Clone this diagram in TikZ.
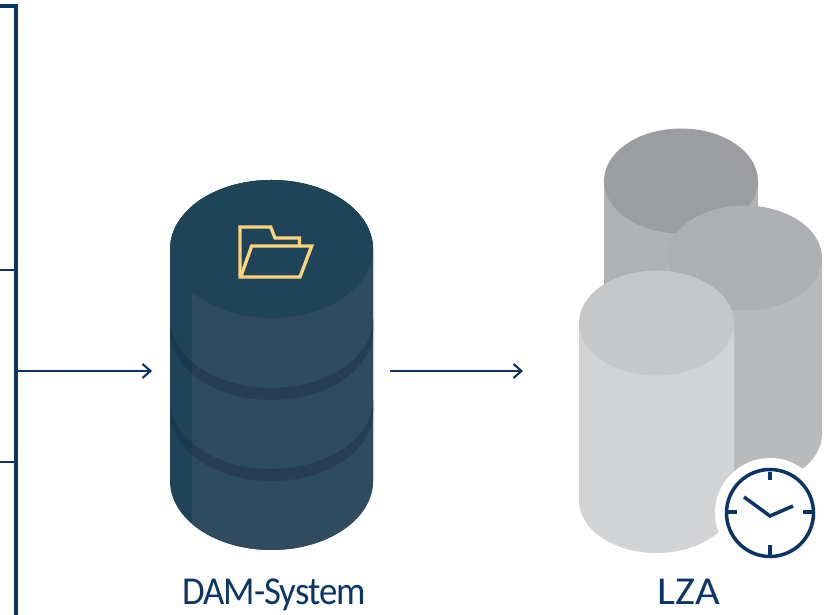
\documentclass[tikz,border=0pt]{standalone}
\usepackage{fontspec}
\setmainfont{Carlito}
\newfontfamily\damfont[FakeStretch=0.93,LetterSpace=-2.5]{Carlito}
\newfontfamily\lzafont[FakeStretch=1.08]{Carlito}
\usepackage{xcolor}
\usetikzlibrary{arrows.meta}

\definecolor{navy}{HTML}{0B3564}
\definecolor{damtop}{HTML}{1F4459}
\definecolor{dambody}{HTML}{2F4B5F}
\definecolor{damband}{HTML}{263D55}
\definecolor{damedge}{HTML}{1B3A50}
\definecolor{folderline}{HTML}{FDD27C}
\definecolor{backtop}{HTML}{9C9DA0}
\definecolor{backbody}{HTML}{B0B1B4}
\definecolor{righttop}{HTML}{AEAFB2}
\definecolor{rightbody}{HTML}{B9BABC}
\definecolor{fronttop}{HTML}{C6C7C9}
\definecolor{frontbody}{HTML}{D2D3D5}

% cx, top y, bottom y, rx, ry, body colour, top colour
\newcommand{\drum}[7]{
  \fill[#6] (#1-#4,#2) -- (#1-#4,#3) arc[start angle=180,end angle=360,x radius=#4,y radius=#5] -- (#1+#4,#2) -- cycle;
  \fill[#7] (#1,#2) ellipse [x radius=#4,y radius=#5];
}

\begin{document}
\begin{tikzpicture}[x=0.02cm,y=0.02cm]
        \tikzstyle{area} = [rectangle, inner sep=0pt, outer sep=0pt, minimum height=7cm]
        \tikzstyle{caption} = [text=navy, anchor=base, inner sep=0pt]
        \tikzstyle{link} = [->, >={Straight Barb[length=4.5pt,width=8pt]}, draw=navy, line width=1.2pt]
        \tikzstyle{clockline} = [draw=navy, line width=2pt]

        \useasboundingbox (0,0) rectangle (833,615);

        % frame on the left
        \draw[navy, line width=2.5pt] (0,609) -- (16.2,609) -- (16.2,0);
        \draw[navy, line width=1.2pt] (0,345) -- (16.2,345);
        \draw[navy, line width=1.2pt] (0,153) -- (16.2,153);

        % DAM cylinder
        \drum{271.5}{366}{134}{101.5}{69}{damtop}{damtop}
        \foreach \y/\z in {296/284, 215/203}
          \fill[damedge] (170,\y) arc[start angle=180,end angle=360,x radius=101.5,y radius=69]
            -- (373,\z) arc[start angle=360,end angle=180,x radius=101.5,y radius=69] -- cycle;
        \begin{scope}
          \clip (192,0) rectangle (373,615);
          \drum{271.5}{366}{134}{101.5}{69}{dambody}{dambody}
          \foreach \y/\z in {296/284, 215/203}
            \fill[damband] (170,\y) arc[start angle=180,end angle=360,x radius=101.5,y radius=69]
              -- (373,\z) arc[start angle=360,end angle=180,x radius=101.5,y radius=69] -- cycle;
        \end{scope}
        \fill[damtop] (271.5,366) ellipse [x radius=101.5,y radius=69];

        % folder
        \draw[folderline, line width=1.9pt, line join=miter]
          (299.5,369) -- (299.5,377) -- (275,377) -- (270.7,388) -- (240,388) -- (240,338);
        \draw[folderline, line width=1.9pt, line join=miter]
          (251.7,369) -- (311.7,369) -- (300,338) -- (240.7,338) -- cycle;

        % LZA cylinders
        \drum{681}{434}{200}{77}{52.5}{backbody}{backtop}
        \drum{744.5}{357}{181}{77.5}{52.5}{rightbody}{righttop}
        \drum{656.5}{292}{114.5}{77.5}{52.5}{frontbody}{fronttop}

        % clock
        \fill[white] (770,102) circle (55);
        \draw[clockline] (770,102) circle (43.5);
        \draw[clockline] (770,143) -- (770,135);
        \draw[clockline] (770,70) -- (770,60);
        \draw[clockline] (726,103) -- (737,103);
        \draw[clockline] (803,103) -- (815,103);
        \draw[clockline, line join=miter] (744,118) -- (770,99) -- (793,109);

        % labels and arrows
        \node[caption, font=\damfont\fontsize{22.5}{25}\selectfont] (damlabel) at (274,10) {DAM-System};
        \node[caption, font=\lzafont\fontsize{22.5}{25}\selectfont] (lzalabel) at (689,10) {LZA};

        \node[area, minimum width=4.76cm] (dam) at (271,244) {};
        \node[area, minimum width=6cm] (lza) at (673,244) {};
        \coordinate (frameout) at (18,244);

        \draw[link] (frameout) -- (dam);
        \draw[link] (dam) -- (lza);
      \end{tikzpicture}
\end{document}
